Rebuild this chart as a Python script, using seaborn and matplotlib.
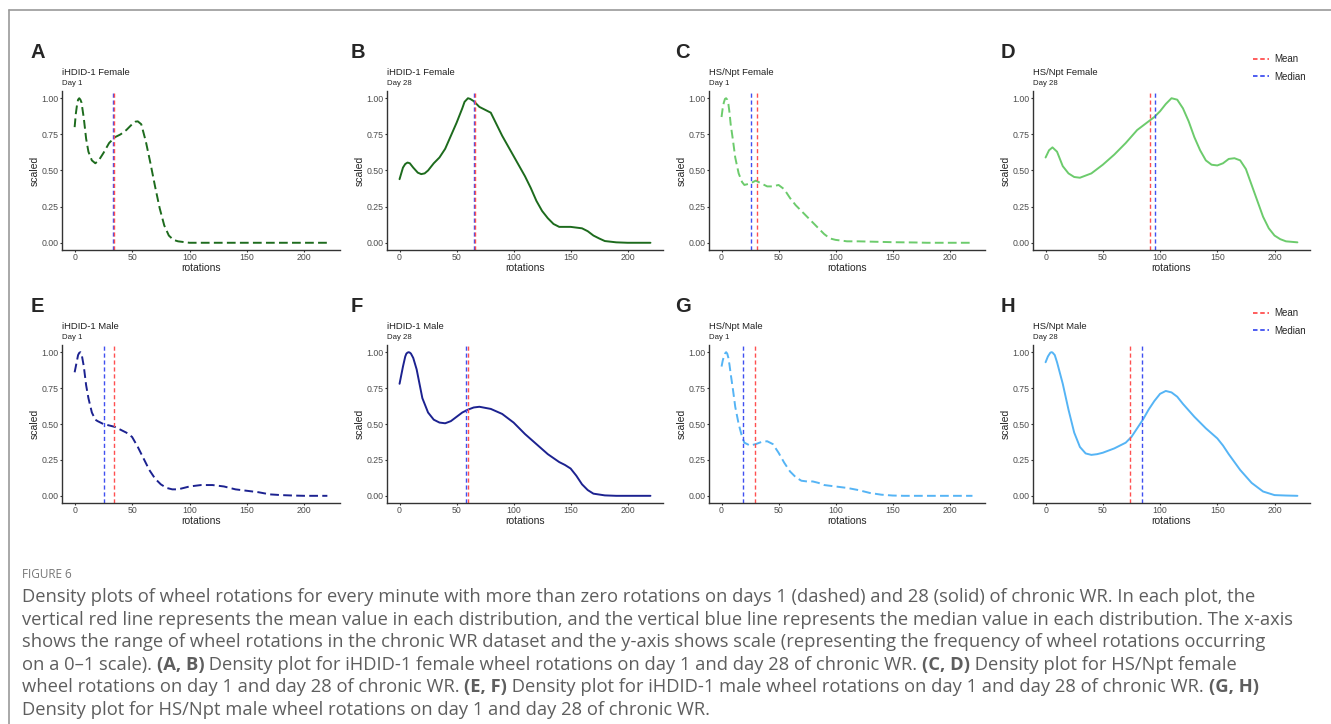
import matplotlib
matplotlib.use("Agg")
import matplotlib.pyplot as plt
import seaborn as sns
from matplotlib.lines import Line2D

# curves (scaled density, 0-1)
a_x = [0, 1, 2, 3, 4, 5, 6, 8, 10, 12, 15, 18, 21, 25, 30, 35, 40, 45, 50, 53, 55, 58, 62, 66, 70, 74, 78, 82, 86, 90, 100, 120, 140, 160, 180, 200, 220]
a_y = [0.80, 0.89, 0.95, 0.99, 1.00, 0.99, 0.97, 0.86, 0.72, 0.63, 0.57, 0.55, 0.57, 0.62, 0.69, 0.73, 0.75, 0.78, 0.82, 0.838, 0.84, 0.82, 0.70, 0.55, 0.39, 0.24, 0.12, 0.05, 0.02, 0.01, 0.0, 0.0, 0.0, 0.0, 0.0, 0.0, 0.0]

b_x = [0, 3, 5, 7, 9, 12, 16, 19, 22, 25, 30, 35, 40, 45, 50, 55, 57, 60, 62, 65, 70, 75, 80, 85, 90, 95, 100, 105, 110, 115, 120, 125, 130, 135, 140, 150, 160, 165, 170, 175, 180, 190, 200, 220]
b_y = [0.44, 0.52, 0.545, 0.555, 0.55, 0.52, 0.485, 0.475, 0.48, 0.50, 0.55, 0.59, 0.65, 0.74, 0.83, 0.93, 0.975, 1.00, 0.995, 0.98, 0.94, 0.92, 0.90, 0.82, 0.74, 0.67, 0.60, 0.53, 0.46, 0.38, 0.29, 0.22, 0.17, 0.13, 0.11, 0.11, 0.10, 0.08, 0.05, 0.03, 0.012, 0.003, 0.0, 0.0]

c_x = [0, 1, 2, 3, 4, 5, 6, 7, 8, 10, 12, 15, 18, 20, 25, 30, 35, 40, 45, 50, 55, 60, 65, 70, 75, 80, 85, 90, 95, 100, 110, 120, 130, 150, 170, 180, 200, 220]
c_y = [0.87, 0.93, 0.97, 0.995, 1.00, 0.99, 0.96, 0.90, 0.82, 0.71, 0.59, 0.48, 0.42, 0.40, 0.41, 0.43, 0.41, 0.39, 0.39, 0.40, 0.37, 0.31, 0.26, 0.22, 0.18, 0.14, 0.10, 0.06, 0.03, 0.02, 0.01, 0.01, 0.008, 0.004, 0.002, 0.0, 0.0, 0.0]

d_x = [0, 3, 6, 10, 15, 20, 25, 30, 40, 50, 60, 70, 80, 90, 95, 100, 105, 110, 115, 120, 125, 130, 135, 140, 145, 150, 155, 160, 165, 170, 175, 180, 185, 190, 195, 200, 205, 210, 220]
d_y = [0.59, 0.64, 0.66, 0.63, 0.53, 0.48, 0.455, 0.45, 0.48, 0.54, 0.61, 0.69, 0.78, 0.84, 0.87, 0.91, 0.96, 1.00, 0.99, 0.93, 0.84, 0.73, 0.64, 0.57, 0.54, 0.535, 0.55, 0.58, 0.585, 0.57, 0.51, 0.40, 0.29, 0.18, 0.10, 0.05, 0.025, 0.01, 0.003]

e_x = [0, 1, 3, 4, 5, 6, 8, 10, 12, 15, 18, 20, 25, 30, 35, 40, 45, 50, 55, 60, 65, 70, 75, 80, 85, 90, 95, 100, 110, 120, 130, 140, 150, 160, 170, 180, 190, 200, 220]
e_y = [0.86, 0.90, 0.98, 0.995, 1.00, 0.99, 0.90, 0.77, 0.68, 0.58, 0.53, 0.52, 0.50, 0.49, 0.48, 0.46, 0.44, 0.41, 0.34, 0.26, 0.18, 0.12, 0.08, 0.055, 0.045, 0.045, 0.055, 0.065, 0.075, 0.075, 0.065, 0.045, 0.035, 0.025, 0.01, 0.005, 0.002, 0.0, 0.0]

f_x = [0, 3, 5, 6, 7, 8, 9, 10, 12, 15, 20, 25, 30, 35, 40, 45, 50, 55, 60, 65, 70, 80, 90, 100, 110, 120, 130, 140, 145, 150, 155, 160, 165, 170, 180, 190, 200, 220]
f_y = [0.78, 0.90, 0.97, 0.99, 0.997, 1.00, 0.997, 0.99, 0.96, 0.88, 0.68, 0.58, 0.53, 0.51, 0.505, 0.52, 0.55, 0.58, 0.60, 0.615, 0.62, 0.605, 0.57, 0.51, 0.43, 0.36, 0.29, 0.235, 0.215, 0.19, 0.14, 0.08, 0.04, 0.015, 0.003, 0.0, 0.0, 0.0]

g_x = [0, 1, 2, 3, 4, 5, 6, 7, 8, 10, 12, 15, 18, 20, 25, 30, 35, 40, 45, 50, 55, 60, 65, 70, 75, 80, 85, 90, 100, 110, 120, 130, 140, 150, 160, 220]
g_y = [0.90, 0.94, 0.97, 0.99, 1.00, 0.99, 0.96, 0.91, 0.85, 0.74, 0.62, 0.50, 0.41, 0.37, 0.35, 0.36, 0.375, 0.38, 0.36, 0.30, 0.23, 0.17, 0.13, 0.105, 0.10, 0.10, 0.09, 0.075, 0.065, 0.055, 0.04, 0.02, 0.008, 0.002, 0.0, 0.0]

h_x = [0, 2, 4, 5, 6, 8, 10, 12, 15, 20, 25, 30, 35, 40, 45, 50, 60, 70, 75, 80, 85, 90, 95, 100, 105, 110, 115, 120, 130, 140, 150, 155, 160, 170, 180, 190, 200, 210, 220]
h_y = [0.93, 0.97, 0.995, 1.00, 0.998, 0.98, 0.93, 0.87, 0.78, 0.60, 0.44, 0.34, 0.295, 0.285, 0.29, 0.30, 0.33, 0.37, 0.41, 0.47, 0.53, 0.60, 0.66, 0.71, 0.73, 0.72, 0.69, 0.64, 0.55, 0.47, 0.40, 0.35, 0.29, 0.18, 0.09, 0.03, 0.005, 0.002, 0.0]

curves_x = [a_x, b_x, c_x, d_x, e_x, f_x, g_x, h_x]
curves_y = [a_y, b_y, c_y, d_y, e_y, f_y, g_y, h_y]

means = [34.0, 66.0, 30.7, 91.4, 34.7, 59.7, 29.5, 73.9]
medians = [33.3, 65.0, 25.4, 96.0, 25.6, 58.2, 18.4, 84.4]

letters = ["A", "B", "C", "D", "E", "F", "G", "H"]
titles = ["iHDID-1 Female", "iHDID-1 Female", "HS/Npt Female", "HS/Npt Female",
          "iHDID-1 Male", "iHDID-1 Male", "HS/Npt Male", "HS/Npt Male"]
days = ["Day 1", "Day 28", "Day 1", "Day 28", "Day 1", "Day 28", "Day 1", "Day 28"]

x_ticks = [0, 50, 100, 150, 200]
y_ticks = [0, 0.25, 0.5, 0.75, 1.0]

colors = ["#1d6b1d", "#1d6b1d", "#6ccb6c", "#6ccb6c", "#1c2290", "#1c2290", "#55b4f5", "#55b4f5"]
styles = ["--", "-", "--", "-", "--", "-", "--", "-"]
mean_color = "#ff5050"
median_color = "#4050f0"

caption_lines = [
    [("Density plots of wheel rotations for every minute with more than zero rotations on days 1 (dashed) and 28 (solid) of chronic WR. In each plot, the", False)],
    [("vertical red line represents the mean value in each distribution, and the vertical blue line represents the median value in each distribution. The x-axis", False)],
    [("shows the range of wheel rotations in the chronic WR dataset and the y-axis shows scale (representing the frequency of wheel rotations occurring", False)],
    [("on a 0–1 scale). ", False), ("(A, B)", True), (" Density plot for iHDID-1 female wheel rotations on day 1 and day 28 of chronic WR. ", False),
     ("(C, D)", True), (" Density plot for HS/Npt female", False)],
    [("wheel rotations on day 1 and day 28 of chronic WR. ", False), ("(E, F)", True),
     (" Density plot for iHDID-1 male wheel rotations on day 1 and day 28 of chronic WR. ", False), ("(G, H)", True)],
    [("Density plot for HS/Npt male wheel rotations on day 1 and day 28 of chronic WR.", False)],
]

sns.set_style("ticks")
plt.rcParams['font.family'] = ['Liberation Sans', 'DejaVu Sans']

W, H = 1331, 724
fig = plt.figure(figsize=(W / 100, H / 100), dpi=100)

lefts = [62, 387, 709, 1033]
rights = [340, 663, 985, 1310]
tops = [91, 345]
bottoms = [250, 503]
letter_x = [31, 351, 675, 1001]

for i in range(8):
    row, col = divmod(i, 4)
    l, r = lefts[col], rights[col]
    t, b = tops[row], bottoms[row]
    ax = fig.add_axes([l / W, 1 - b / H, (r - l) / W, (b - t) / H])

    sns.lineplot(x=curves_x[i], y=curves_y[i], ax=ax, color=colors[i],
                 linestyle=styles[i], linewidth=1.4, errorbar=None, sort=False)
    if styles[i] == "--":
        ax.lines[-1].set_dashes((4.5, 2.2))
    ax.axvline(medians[i], color=median_color, linestyle=(0, (3, 2)), linewidth=1.0)
    ax.axvline(means[i], color=mean_color, linestyle=(0, (3, 2)), linewidth=1.0)

    ax.set_xlim(-11, 231)
    ax.set_ylim(-0.05, 1.05)
    ax.set_xticks(x_ticks)
    ax.set_yticks(y_ticks)
    ax.set_yticklabels([f"{v:.2f}" for v in y_ticks])
    ax.tick_params(length=1.6, width=0.8, color="#333333", labelsize=6.3,
                   labelcolor="#4d4d4d", pad=0.8)
    sns.despine(ax=ax)
    for s in ["left", "bottom"]:
        ax.spines[s].set_color("#333333")
        ax.spines[s].set_linewidth(1.0)
    ax.set_xlabel("rotations", fontsize=7.5)
    ax.set_ylabel("scaled", fontsize=7.5)
    ax.xaxis.set_label_coords(0.5, -13 / (b - t))
    ax.yaxis.set_label_coords(-22 / (r - l), 0.5)

    dy = row * 254
    fig.text(l / W, 1 - (72.7 + dy) / H, titles[i], fontsize=6.8, color="#222222", va="center")
    fig.text(l / W, 1 - (83.5 + dy) / H, days[i], fontsize=5.6, color="#222222", va="center")
    fig.text(letter_x[col] / W, 1 - (52.7 + dy) / H, letters[i], fontsize=14.5,
             fontweight="bold", va="center")

    if col == 3:
        handles = [Line2D([], [], color=mean_color, linestyle=(0, (2.5, 1.5)), linewidth=1.3),
                   Line2D([], [], color=median_color, linestyle=(0, (2.5, 1.5)), linewidth=1.3)]
        ax.legend(handles, ["Mean", "Median"], loc="upper left",
                  bbox_to_anchor=(1253 / W, 1 - (54 + dy) / H), bbox_transform=fig.transFigure,
                  frameon=False, fontsize=7, handlelength=1.6, handletextpad=0.6,
                  labelspacing=0.8, borderpad=0, borderaxespad=0)

# frame around the figure
fig.add_artist(Line2D([9 / W, 9 / W], [0, 1 - 10 / H], color="#9a9a9a", linewidth=1.2,
                      transform=fig.transFigure))
fig.add_artist(Line2D([9 / W, 1], [1 - 10 / H, 1 - 10 / H], color="#9a9a9a", linewidth=1.2,
                      transform=fig.transFigure))

# caption
renderer = fig.canvas.get_renderer()
probe = fig.text(0, 0, "".join(s for s, _ in caption_lines[1]), fontsize=10, family="Open Sans")
cap_size = 10 * 1270 / probe.get_window_extent(renderer).width
probe.remove()

fig.text(22 / W, 1 - 574 / H, "FIGURE 6", fontsize=8.5, family="Open Sans", color="#777777", va="center")
y = 597
for line in caption_lines:
    x = 22
    for txt, bold in line:
        t = fig.text(x / W, 1 - y / H, txt, fontsize=cap_size, family="Open Sans",
                     fontweight="bold" if bold else "normal", color="#5e5e5e", va="center")
        x += t.get_window_extent(renderer).width
    y += 22.6

fig.savefig("out.png", dpi=100)
